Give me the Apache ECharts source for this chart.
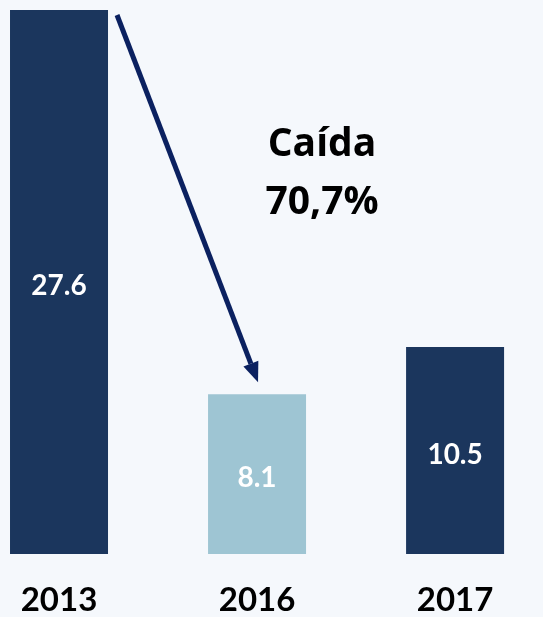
<!DOCTYPE html>
<html>
<head>
<meta charset="utf-8">
<script src="https://cdn.jsdelivr.net/npm/echarts@6/dist/echarts.min.js"></script>
<style>
  html, body { margin: 0; padding: 0; background: #f5f8fc; }
  #chart { width: 543px; height: 617px; }
</style>
</head>
<body>
<div id="chart"></div>
<script>
// datos
const years = ['2013', '2016', '2017'];
const values = [27.6, 8.1, 10.5];
const barColors = ['#1b365d', '#9ec5d3', '#1b365d'];
const dropLines = ['Caída', '70,7%'];

const chart = echarts.init(document.getElementById('chart'));

const option = {
  backgroundColor: '#f5f8fc',
  animation: false,
  grid: { left: 0, right: 0, top: 10, bottom: 60 },
  xAxis: {
    type: 'value',
    min: -0.298,
    max: 2.444,
    splitLine: { show: false },
    axisLine: { show: false },
    axisTick: { show: false },
    axisLabel: {
      customValues: [0, 1, 2],
      formatter: v => years[Math.round(v)],
      margin: 30,
      color: '#000',
      fontFamily: 'Lato',
      fontWeight: 'bold',
      fontSize: 33
    }
  },
  yAxis: {
    type: 'value',
    min: 0,
    max: 27.6,
    show: false,
    splitLine: { show: false }
  },
  series: [{
    type: 'bar',
    barWidth: 98,
    data: values.map((v, i) => ({ value: [i, v], itemStyle: { color: barColors[i] } })),
    label: {
      show: true,
      position: 'inside',
      offset: [0, 4],
      color: '#fff',
      fontFamily: 'Lato',
      fontWeight: 'bold',
      fontSize: 28,
      formatter: p => p.value[1].toFixed(1)
    }
  }]
};

chart.setOption(option);

// flecha de caída entre 2013 y 2016
const p0 = chart.convertToPixel({ seriesIndex: 0 }, [0, values[0]]);
const p1 = chart.convertToPixel({ seriesIndex: 0 }, [1, values[1]]);
const start = [p0[0] + 58, p0[1] + 5];
const tip = [p1[0] + 1, p1[1] - 12];
const ang = Math.atan2(tip[1] - start[1], tip[0] - start[0]);
const headLen = 20, headW = 8;
const base = [tip[0] - headLen * Math.cos(ang), tip[1] - headLen * Math.sin(ang)];
const nx = -Math.sin(ang), ny = Math.cos(ang);

chart.setOption({
  graphic: [
    {
      type: 'line',
      shape: { x1: start[0], y1: start[1], x2: base[0], y2: base[1] },
      style: { stroke: '#0b2160', lineWidth: 5 }
    },
    {
      type: 'polygon',
      shape: {
        points: [
          tip,
          [base[0] + nx * headW, base[1] + ny * headW],
          [base[0] - nx * headW, base[1] - ny * headW]
        ]
      },
      style: { fill: '#0b2160' }
    },
    {
      type: 'text',
      x: 322, y: 145,
      style: {
        text: dropLines[0],
        fill: '#000',
        font: 'bold 39px "Open Sans"',
        align: 'center',
        verticalAlign: 'middle'
      }
    },
    {
      type: 'text',
      x: 322, y: 203,
      style: {
        text: dropLines[1],
        fill: '#000',
        font: 'bold 39px "Open Sans"',
        align: 'center',
        verticalAlign: 'middle'
      }
    }
  ]
});

window.addEventListener('resize', () => chart.resize());
</script>
</body>
</html>
